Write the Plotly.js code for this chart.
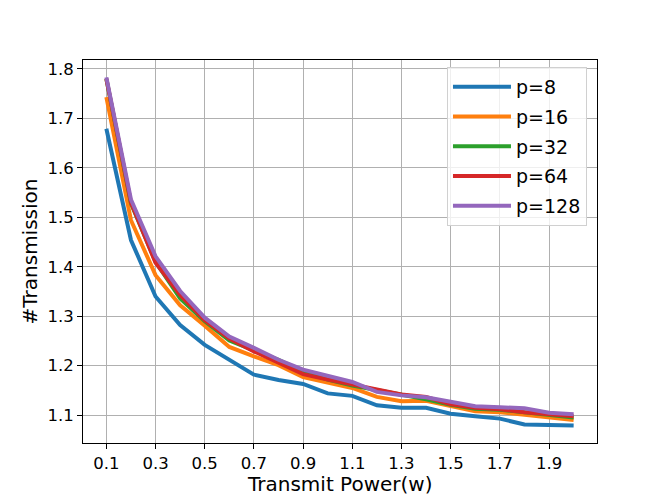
<!DOCTYPE html>
<html>
<head>
<meta charset="utf-8">
<script src="https://cdn.plot.ly/plotly-3.0.1.min.js"></script>
<style>
  body { margin: 0; background: #fff; }
  #chart { width: 664px; height: 498px; }
</style>
</head>
<body>
<div id="chart"></div>
<script>
// transmit power (w)
const power = [0.1, 0.2, 0.3, 0.4, 0.5, 0.6, 0.7, 0.8, 0.9, 1.0,
               1.1, 1.2, 1.3, 1.4, 1.5, 1.6, 1.7, 1.8, 1.9, 2.0]

// #transmission per p
const p8 = [1.679, 1.454, 1.340, 1.282, 1.242, 1.211, 1.182, 1.171, 1.163, 1.144,
            1.139, 1.120, 1.115, 1.115, 1.103, 1.098, 1.093, 1.081, 1.081, 1.079]
const p16 = [1.743, 1.494, 1.383, 1.322, 1.281, 1.238, 1.219, 1.201, 1.177, 1.167,
             1.155, 1.137, 1.128, 1.129, 1.118, 1.108, 1.106, 1.101, 1.095, 1.090]
const p32 = [1.780, 1.528, 1.410, 1.336, 1.290, 1.251, 1.231, 1.212, 1.188, 1.172,
             1.160, 1.151, 1.143, 1.132, 1.121, 1.113, 1.111, 1.106, 1.100, 1.095]
const p64 = [1.780, 1.530, 1.408, 1.343, 1.292, 1.255, 1.229, 1.206, 1.183, 1.172,
             1.162, 1.150, 1.142, 1.137, 1.122, 1.115, 1.112, 1.106, 1.101, 1.098]
const p128 = [1.783, 1.536, 1.421, 1.351, 1.297, 1.259, 1.236, 1.212, 1.192, 1.179,
              1.167, 1.147, 1.140, 1.136, 1.126, 1.118, 1.116, 1.114, 1.105, 1.102]

const seriesNames = ['p=8', 'p=16', 'p=32', 'p=64', 'p=128']
const seriesData = [p8, p16, p32, p64, p128]
const colors = ['#1f77b4', '#ff7f0e', '#2ca02c', '#d62728', '#9467bd']

const font = "'DejaVu Sans', sans-serif"
const gridColor = '#b0b0b0'

//one legendgroup per trace so tracegroupgap spreads the entries
let traces = seriesData.map((ys, i) => ({
  x: power,
  y: ys,
  name: seriesNames[i],
  legendgroup: 'g' + i,
  type: 'scatter',
  mode: 'lines',
  line: { color: colors[i], width: 4 },
}))

let axisCommon = {
  showline: true,
  linecolor: '#000',
  linewidth: 1,
  mirror: true,
  showgrid: true,
  gridcolor: gridColor,
  gridwidth: 1,
  zeroline: false,
  ticks: 'outside',
  ticklen: 5,
  tickcolor: '#000',
  tickfont: { family: font, size: 16.5, color: '#000' },
  automargin: false,
}

let layout = {
  width: 664,
  height: 498,
  margin: { l: 83, r: 67, t: 60, b: 55 },
  paper_bgcolor: '#fff',
  plot_bgcolor: '#fff',
  font: { family: font, color: '#000' },
  showlegend: true,
  xaxis: {
    ...axisCommon,
    range: [0.005, 2.095],
    tick0: 0.1,
    dtick: 0.2,
    tickformat: '.1f',
  },
  yaxis: {
    ...axisCommon,
    range: [1.0437, 1.818],
    dtick: 0.1,
    tickformat: '.1f',
    title: { text: '#Transmission', font: { family: font, size: 20 }, standoff: 4 },
  },
  //x title as annotation to pin its baseline
  annotations: [
    {
      xref: 'paper',
      yref: 'paper',
      x: 0.5,
      y: 0,
      xanchor: 'center',
      yanchor: 'top',
      yshift: -27,
      text: 'Transmit Power(w)',
      showarrow: false,
      font: { family: font, size: 20, color: '#000' },
    },
  ],
  legend: {
    x: 0.9805,
    y: 0.9817,
    xanchor: 'right',
    yanchor: 'top',
    bgcolor: 'rgba(255,255,255,0.8)',
    bordercolor: '#d0d0d0',
    borderwidth: 1,
    font: { family: font, size: 19, color: '#000' },
    itemwidth: 58,
    tracegroupgap: 2,
  },
}

Plotly.newPlot('chart', traces, layout, { displayModeBar: false, staticPlot: true })
</script>
</body>
</html>
